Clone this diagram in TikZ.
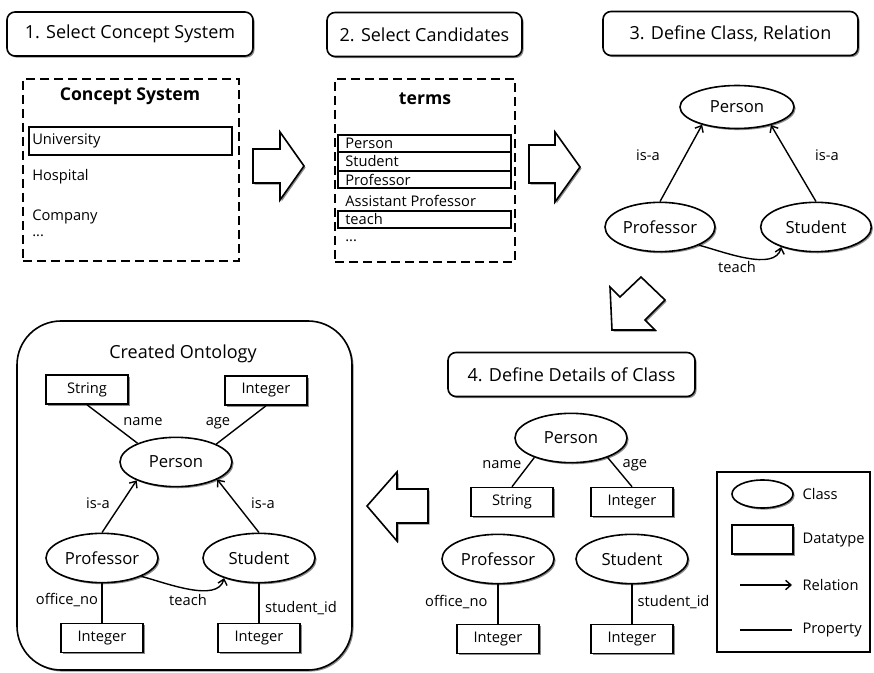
\documentclass[tikz,border=0pt]{standalone}
\usepackage{fontspec}
\setmainfont{Open Sans}
\usetikzlibrary{shapes.geometric,shadows,arrows.meta}
\begin{document}
\begin{tikzpicture}[x=0.75pt,y=-0.75pt,
  bigf/.style={font=\fontsize{12.5}{15}\selectfont},
  ttlf/.style={font=\fontsize{13.5}{16}\selectfont},
  bigbf/.style={font=\fontsize{13.2}{16}\selectfont\bfseries},
  smf/.style={font=\fontsize{11}{13}\selectfont},
  shad/.style={drop shadow={shadow xshift=1.2pt,shadow yshift=-1.2pt,fill=black!45,opacity=1}},
  stepbox/.style={draw,line width=1.2pt,rounded corners=6pt,fill=white,shad,ttlf,minimum height=33pt,inner sep=0pt},
  cls/.style={ellipse,draw,line width=1.2pt,fill=white,shad,bigf,inner sep=0pt,minimum width=84pt,minimum height=37pt},
  dtype/.style={rectangle,draw,line width=1.2pt,fill=white,shad,smf,inner sep=0pt,minimum width=61.5pt,minimum height=21.75pt},
  lbl/.style={smf,inner sep=1pt},
  rel/.style={line width=1.05pt,-{Straight Barb[length=4pt,width=7pt]}},
  prop/.style={line width=1.05pt},
  blockarrow/.style={draw,line width=1.2pt,fill=white,line join=miter,shad},
  dashbox/.style={draw,line width=1.2pt,dash pattern=on 7pt off 3.5pt,inner sep=0pt},
  itembox/.style={draw,line width=1.2pt,inner sep=0pt},
  itemtxt/.style={smf,anchor=west,inner sep=0pt},
]
\useasboundingbox (0,0) rectangle (874,673);

% ---------- Step 1 ----------
\node[stepbox,minimum width=184.5pt] (t1) at (130,34) {1. Select Concept System};
\node[dashbox,minimum width=162pt,minimum height=136.5pt] (cs) at (131,170) {};
\node[bigbf] (csT) at (130,96) {Concept System};
\node[itembox,minimum width=152.25pt,minimum height=21pt] (univ) at (130.5,141) {};
\node[itemtxt] (univT) at (32,141) {University};
\node[itemtxt] (hosp) at (32,177) {Hospital};
\node[itemtxt] (comp) at (32,217) {Company};
\node[itemtxt] (dots1) at (32,236) {...};

% ---------- Step 2 ----------
\node[stepbox,minimum width=146.25pt] (t2) at (424.5,34.5) {2. Select Candidates};
\node[dashbox,minimum width=135pt,minimum height=137.25pt] (tm) at (425,170.5) {};
\node[bigbf] (tmT) at (425,99) {terms};
\node[itembox,minimum width=129.75pt,minimum height=12.75pt] (b1) at (424.5,143.5) {};
\node[itembox,minimum width=129.75pt,minimum height=14.25pt] (b2) at (424.5,161.5) {};
\node[itembox,minimum width=129.75pt,minimum height=12.75pt] (b3) at (424.5,179.5) {};
\node[itembox,minimum width=129.75pt,minimum height=12.75pt] (b5) at (424.5,219.5) {};
\node[itemtxt] (x1) at (345,143.5) {Person};
\node[itemtxt] (x2) at (345,161.5) {Student};
\node[itemtxt] (x3) at (345,179.5) {Professor};
\node[itemtxt] (x4) at (345,201) {Assistant Professor};
\node[itemtxt] (x5) at (345,219.5) {teach};
\node[itemtxt] (x6) at (345,241) {...};

% ---------- block arrows ----------
\draw[blockarrow] (253,149) -- (280,149) -- (280,132) -- (304,166) -- (280,200) -- (280,183) -- (253,183) -- cycle;
\draw[blockarrow] (529,145) -- (555,145) -- (555,132) -- (580,167) -- (555,202) -- (555,183) -- (529,183) -- cycle;
\draw[blockarrow] (620,297) -- (641,277) -- (665,300) -- (645,320) -- (655,330) -- (612,330) -- (610,287) -- cycle;
\draw[blockarrow] (428,489) -- (397,489) -- (397,472) -- (367,506) -- (397,541) -- (397,523) -- (428,523) -- cycle;

% ---------- Step 3 ----------
\node[stepbox,minimum width=191.25pt] (t3) at (730.5,33.5) {3. Define Class, Relation};
\node[cls,minimum width=85.5pt,minimum height=32.25pt] (p3) at (737,107) {Person};
\node[cls,minimum width=82.5pt] (pr3) at (660,227) {Professor};
\node[cls,minimum width=83pt] (st3) at (816,227) {Student};
\draw[rel] (pr3.north) -- (p3.207);
\draw[rel] (st3.north) -- (p3.332);
\node[lbl] (l31) at (648,155) {is-a};
\node[lbl] (l32) at (827,155) {is-a};
\draw[rel] (pr3.-25) to[out=-15,in=-105,looseness=0.8] (st3.-150);
\node[lbl] (l33) at (737,267) {teach};

% ---------- Step 4 ----------
\node[stepbox,minimum width=185.25pt] (t4) at (571.5,374.5) {4. Define Details of Class};
\node[cls] (p4) at (571,438) {Person};
\node[dtype] (s4) at (512,502) {String};
\node[dtype] (i4a) at (632,502) {Integer};
\draw[prop] (p4.208) -- (s4.north);
\draw[prop] (p4.332) -- (i4a.north);
\node[lbl,anchor=east] (l41) at (523,465) {name};
\node[lbl,anchor=west] (l42) at (621,465) {age};
\node[cls] (pr4) at (498,559) {Professor};
\node[cls] (st4) at (632,559) {Student};
\node[dtype] (i4b) at (498,639) {Integer};
\node[dtype] (i4c) at (632,639) {Integer};
\draw[prop] (pr4) -- (i4b);
\draw[prop] (st4) -- (i4c);
\node[lbl,anchor=east] (l43) at (489,602) {office\_no};
\node[lbl,anchor=west] (l44) at (636,602) {student\_id};

% ---------- Legend ----------
\node[draw,line width=1.2pt,minimum width=114.75pt,minimum height=135pt,inner sep=0pt] (leg) at (793.5,562) {};
\node[cls,minimum width=45.75pt,minimum height=21pt] (lc) at (762.5,494) {};
\node[lbl,anchor=west] (lcT) at (801,494) {Class};
\node[dtype,minimum width=45.75pt,minimum height=21.75pt] (ld) at (762.5,539.5) {};
\node[lbl,anchor=west] (ldT) at (801,540) {Datatype};
\coordinate (r1) at (740,585);
\coordinate (r2) at (792,585);
\draw[rel] (r1) -- (r2);
\node[lbl,anchor=west] (lrT) at (801,585) {Relation};
\coordinate (q1) at (740,630);
\coordinate (q2) at (792,630);
\draw[prop] (q1) -- (q2);
\node[lbl,anchor=west] (lpT) at (801,630) {Property};

% ---------- Created Ontology ----------
\node[draw,line width=1.2pt,rounded corners=33pt,fill=white,shad,minimum width=251.25pt,minimum height=261.75pt,inner sep=0pt] (co) at (184.5,495.5) {};
\node[ttlf] (coT) at (183,354) {Created Ontology};
\node[dtype] (s5) at (87,389.5) {String};
\node[dtype] (i5a) at (266,390.5) {Integer};
\node[cls] (p5) at (176,462) {Person};
\node[cls] (pr5) at (102,558) {Professor};
\node[cls] (st5) at (259,558) {Student};
\node[dtype] (i5b) at (102,638) {Integer};
\node[dtype] (i5c) at (259,638) {Integer};
\draw[prop] (s5.south) -- (p5.154);
\draw[prop] (i5a.south) -- (p5.24);
\draw[rel] (pr5.north) -- (p5.205);
\draw[rel] (st5.north) -- (p5.337);
\draw[rel] (pr5.-25) to[out=-15,in=-105,looseness=0.8] (st5.-150);
\draw[prop] (pr5) -- (i5b);
\draw[prop] (st5) -- (i5c);
\node[lbl] (l51) at (143,422) {name};
\node[lbl] (l52) at (218,423) {age};
\node[lbl] (l53) at (98,503) {is-a};
\node[lbl] (l54) at (263,503) {is-a};
\node[lbl] (l55) at (188,600) {teach};
\node[lbl] (l56) at (67,600) {office\_no};
\node[lbl] (l57) at (301,608) {student\_id};
\end{tikzpicture}
\end{document}
